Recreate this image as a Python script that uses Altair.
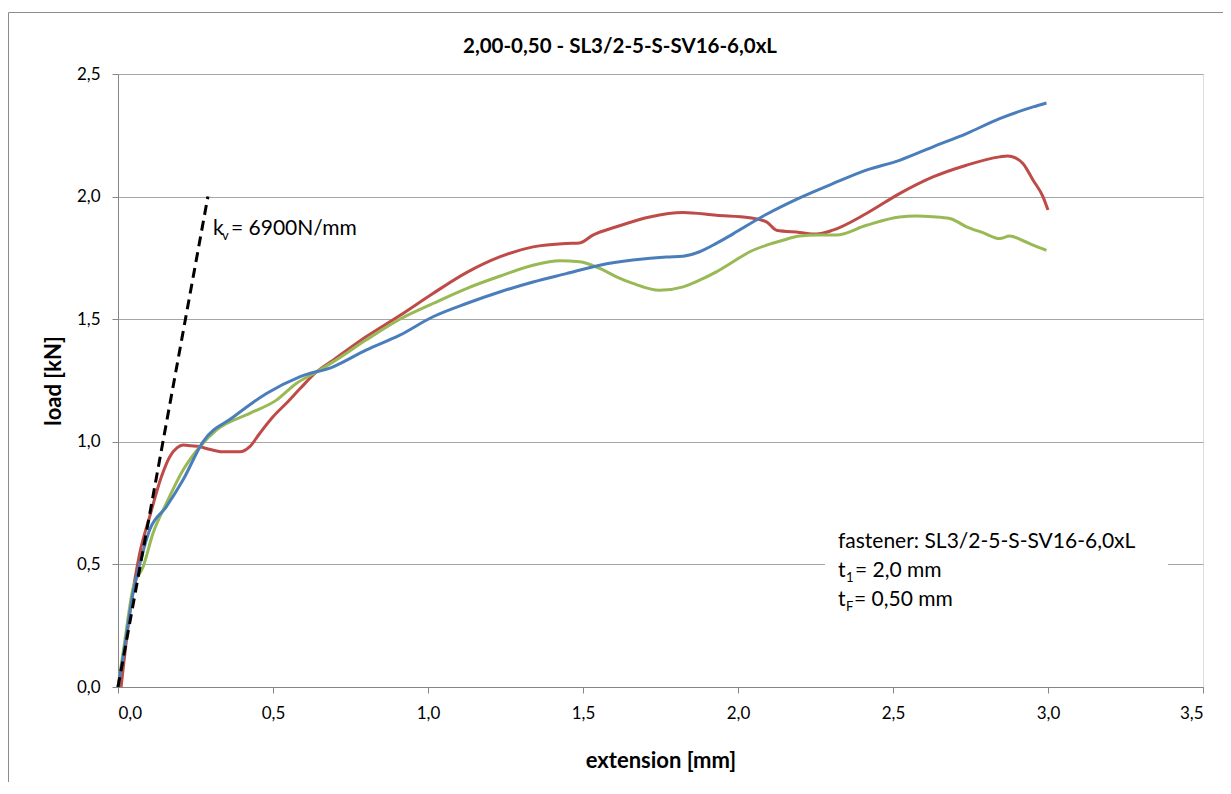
import altair as alt
import pandas as pd

# ---- data ----
blue_ext = [0.0, 0.02, 0.048, 0.07, 0.102, 0.156, 0.21, 0.274, 0.371, 0.479, 0.586, 0.694, 0.80, 0.909,
            1.016, 1.124, 1.231, 1.339, 1.446, 1.554, 1.661, 1.769, 1.823, 1.876, 1.93, 1.984, 2.092,
            2.199, 2.306, 2.414, 2.521, 2.629, 2.737, 2.844, 2.952, 2.995]
blue_load = [0.0, 0.15, 0.38, 0.50, 0.64, 0.735, 0.845, 1.0, 1.10, 1.197, 1.265, 1.306, 1.374, 1.435,
             1.51, 1.564, 1.611, 1.652, 1.686, 1.72, 1.741, 1.754, 1.757, 1.775, 1.809, 1.848, 1.928,
             1.995, 2.053, 2.108, 2.148, 2.203, 2.257, 2.318, 2.366, 2.382]

red_ext = [0.01, 0.038, 0.07, 0.102, 0.14, 0.167, 0.19, 0.21, 0.235, 0.264, 0.285, 0.339, 0.393, 0.425,
           0.457, 0.5, 0.543, 0.586, 0.64, 0.694, 0.80, 0.909, 1.016, 1.124, 1.231, 1.339, 1.446, 1.489,
           1.532, 1.608, 1.715, 1.823, 1.93, 2.038, 2.092, 2.124, 2.199, 2.253, 2.306, 2.414, 2.521,
           2.629, 2.737, 2.844, 2.87, 2.895, 2.919, 2.952, 2.984, 3.0]
red_load = [0.0, 0.30, 0.545, 0.694, 0.857, 0.939, 0.975, 0.987, 0.984, 0.98, 0.973, 0.959, 0.959, 0.98,
            1.034, 1.102, 1.157, 1.215, 1.285, 1.333, 1.428, 1.515, 1.605, 1.69, 1.754, 1.795, 1.809,
            1.811, 1.843, 1.877, 1.917, 1.935, 1.924, 1.914, 1.897, 1.863, 1.854, 1.847, 1.863, 1.931,
            2.012, 2.08, 2.128, 2.162, 2.166, 2.158, 2.135, 2.067, 1.999, 1.945]

green_ext = [0.0, 0.02, 0.048, 0.081, 0.113, 0.156, 0.21, 0.264, 0.317, 0.425, 0.511, 0.575, 0.64, 0.694,
             0.80, 0.909, 1.016, 1.124, 1.231, 1.339, 1.425, 1.489, 1.554, 1.608, 1.661, 1.747, 1.823,
             1.876, 1.93, 1.984, 2.038, 2.092, 2.145, 2.199, 2.253, 2.317, 2.414, 2.521, 2.575, 2.629,
             2.683, 2.737, 2.79, 2.844, 2.876, 2.92, 2.952, 2.995]
green_load = [0.0, 0.17, 0.40, 0.49, 0.627, 0.749, 0.885, 0.98, 1.048, 1.116, 1.17, 1.238, 1.285, 1.326,
              1.415, 1.50, 1.564, 1.625, 1.675, 1.72, 1.738, 1.734, 1.707, 1.673, 1.646, 1.618, 1.632,
              1.659, 1.693, 1.734, 1.775, 1.802, 1.822, 1.839, 1.843, 1.843, 1.883, 1.917, 1.921, 1.918,
              1.911, 1.877, 1.853, 1.829, 1.839, 1.82, 1.802, 1.781]

kv_ext = [0.0, 0.29]
kv_load = [0.0, 2.0]

x_ticks = [0.0, 0.5, 1.0, 1.5, 2.0, 2.5, 3.0, 3.5]
y_ticks = [0.0, 0.5, 1.0, 1.5, 2.0, 2.5]

title_text = "2,00-0,50 - SL3/2-5-S-SV16-6,0xL"
FONT = "Lato"

W, H = 1085, 613
PAD_L, PAD_T = 110, 66


def frame(ext, load):
    return pd.DataFrame({"ext": ext, "load": load, "i": list(range(len(ext)))})


xs = alt.Scale(domain=[0, 3.5], nice=False, zero=False)
ys = alt.Scale(domain=[0, 2.5], nice=False, zero=False)
fmt = "replace(format(datum.value, '.1f'), '.', ',')"

x_axis = alt.Axis(values=x_ticks, labelExpr=fmt, grid=False, title="extension [mm]",
                  tickSize=6, tickColor="#868686", domainColor="#868686",
                  labelFont=FONT, labelFontSize=17, labelColor="#000", labelPadding=12,
                  titleFont=FONT, titleFontSize=22, titleFontWeight="bold", titleColor="#000",
                  titleBaseline="alphabetic", titleY=80)
y_axis = alt.Axis(values=y_ticks, labelExpr=fmt, grid=True, gridColor="#a6a6a6", title="load [kN]",
                  tickSize=6, tickColor="#868686", domainColor="#868686",
                  labelFont=FONT, labelFontSize=17, labelColor="#000", labelPadding=12,
                  titleFont=FONT, titleFontSize=22, titleFontWeight="bold", titleColor="#000",
                  titleBaseline="alphabetic", titleX=-58, titleY=H / 2, titleAngle=-90)


def series(ext, load, color, dash=None):
    kw = dict(color=color, strokeWidth=3, clip=False)
    if dash:
        kw["strokeDash"] = dash
    else:
        kw["interpolate"] = "monotone"
    return alt.Chart(frame(ext, load)).mark_line(**kw).encode(
        x=alt.X("ext:Q", scale=xs, axis=x_axis),
        y=alt.Y("load:Q", scale=ys, axis=y_axis),
        order="i:Q",
    )


one = pd.DataFrame({"a": [0]})


def txt(s, x, y, size, weight="normal", align="left"):
    return alt.Chart(one).mark_text(font=FONT, fontSize=size, fontWeight=weight, align=align,
                                    baseline="alphabetic", color="#000").encode(
        x=alt.value(x), y=alt.value(y), text=alt.value(s))


def rule(x1, y1, x2, y2, color="#8c8c8c"):
    return alt.Chart(one).mark_rule(color=color, strokeWidth=1).encode(
        x=alt.value(x1), x2=alt.value(x2), y=alt.value(y1), y2=alt.value(y2))


# outer chart border (top and left)
border = rule(-109.5, -61.5, 1113, -61.5) + rule(-109.5, -61.5, -109.5, 720)

# white box behind the annotation
box = alt.Chart(one).mark_rect(color="white").encode(
    x=alt.value(825 - PAD_L - 8), x2=alt.value(1168 - PAD_L - 8),
    y=alt.value(525 - PAD_T - 8), y2=alt.value(615 - PAD_T - 8))

ox, oy = -(PAD_L + 8), -(PAD_T + 8)  # convert page px -> plot px

labels = (
    txt(title_text, 620 + ox, 53 + oy, 20.5, "bold", "center")
    + txt("k", 213 + ox, 235 + oy, 21)
    + txt("v", 222 + ox, 240 + oy, 13)
    + txt("= 6900N/mm", 231 + ox, 235 + oy, 21)
    + txt("fastener: SL3/2-5-S-SV16-6,0xL", 838 + ox, 548 + oy, 21)
    + txt("t", 838 + ox, 577 + oy, 21)
    + txt("1", 846 + ox, 582 + oy, 13)
    + txt("= 2,0 mm", 855 + ox, 577 + oy, 21)
    + txt("t", 838 + ox, 606 + oy, 21)
    + txt("F", 846 + ox, 611 + oy, 13)
    + txt("= 0,50 mm", 854 + ox, 606 + oy, 21)
)

chart = alt.layer(
    border,
    box,
    series(red_ext, red_load, "#be4b48"),
    series(green_ext, green_load, "#98b954"),
    series(blue_ext, blue_load, "#4a7ebb"),
    series(kv_ext, kv_load, "#000000", [10, 6]),
    labels,
).properties(
    width=W, height=H,
    autosize=alt.AutoSizeParams(type="none"),
    padding={"left": PAD_L, "top": PAD_T, "right": 20, "bottom": 95},
).configure_view(strokeWidth=0).configure(background="white")

chart.save("out.html", embed_options={"renderer": "svg", "actions": False})
